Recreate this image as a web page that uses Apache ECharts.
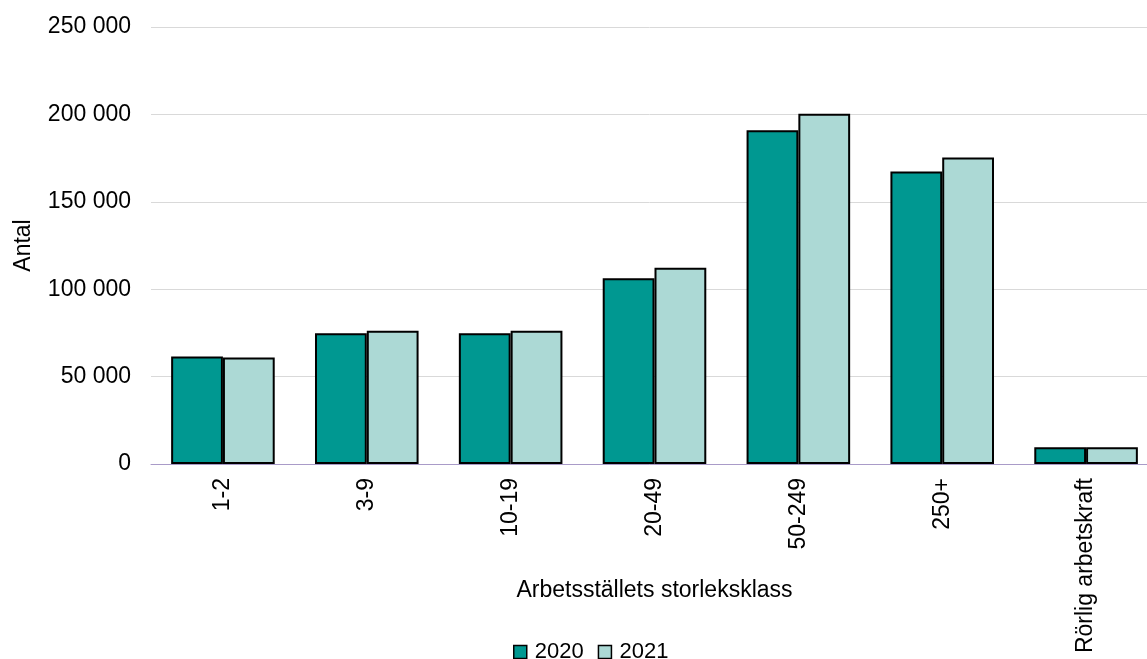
<!DOCTYPE html>
<html>
<head>
<meta charset="utf-8">
<script src="https://cdn.jsdelivr.net/npm/echarts@6/dist/echarts.min.js"></script>
<style>
html,body{margin:0;padding:0;background:#fff;}
#chart{width:1147px;height:659px;}
</style>
</head>
<body>
<div id="chart"></div>
<script>
const categories = ['1-2', '3-9', '10-19', '20-49', '50-249', '250+', 'Rörlig arbetskraft'];
const values2020 = [61500, 74800, 74800, 106200, 190900, 167400, 9600];
const values2021 = [60900, 76300, 76300, 112300, 200400, 175300, 9600];
const seriesNames = ['2020', '2021'];
const yTicks = { min: 0, max: 250000, interval: 50000 };

const FONT = '"Liberation Sans", Arial, sans-serif';
const FS = 23;
const chart = echarts.init(document.getElementById('chart'));
function fmt(v){ return String(v).replace(/\B(?=(\d{3})+(?!\d))/g, ' '); }

chart.setOption({
  animation: false,
  textStyle: { fontFamily: FONT },
  grid: { left: 151, right: -11, top: 27, bottom: 195, outerBoundsMode: 'none', containLabel: false },
  legend: {
    data: seriesNames,
    left: 508, top: 636,
    itemWidth: 13, itemHeight: 13, itemGap: 14,
    icon: 'rect',
    textStyle: { fontSize: 22, color: '#000', fontFamily: FONT, padding: [0,0,0,3] },
    itemStyle: { borderColor: '#000', borderWidth: 1.5 }
  },
  xAxis: {
    type: 'category',
    data: categories,
    name: 'Arbetsställets storleksklass',
    nameLocation: 'middle',
    nameGap: 115,
    nameMoveOverlap: false,
    nameTextStyle: { fontSize: FS, color: '#000', fontFamily: FONT, verticalAlign: 'top' },
    axisLine: { lineStyle: { color: '#A99BC8', width: 1 } },
    axisTick: { show: false },
    axisLabel: { rotate: 90, fontSize: FS, color: '#000', margin: 14, fontFamily: FONT, interval: 0 }
  },
  yAxis: {
    type: 'value',
    min: yTicks.min, max: yTicks.max, interval: yTicks.interval,
    name: 'Antal',
    nameLocation: 'middle',
    nameRotate: 90,
    nameGap: 116,
    nameTextStyle: { fontSize: FS, color: '#000', fontFamily: FONT },
    axisLine: { show: false },
    axisTick: { show: false },
    splitLine: { lineStyle: { color: '#D9D9D9', width: 1 } },
    axisLabel: { fontSize: FS, color: '#000', margin: 20, fontFamily: FONT, formatter: fmt }
  },
  series: [
    {
      name: seriesNames[0], type: 'bar', data: values2020,
      barGap: '0%', barCategoryGap: '28%',
      itemStyle: { color: '#009891', borderColor: '#000', borderWidth: 2 }
    },
    {
      name: seriesNames[1], type: 'bar', data: values2021,
      barGap: '0%', barCategoryGap: '28%',
      itemStyle: { color: '#ACD9D5', borderColor: '#000', borderWidth: 2 }
    }
  ]
});
</script>
</body>
</html>
